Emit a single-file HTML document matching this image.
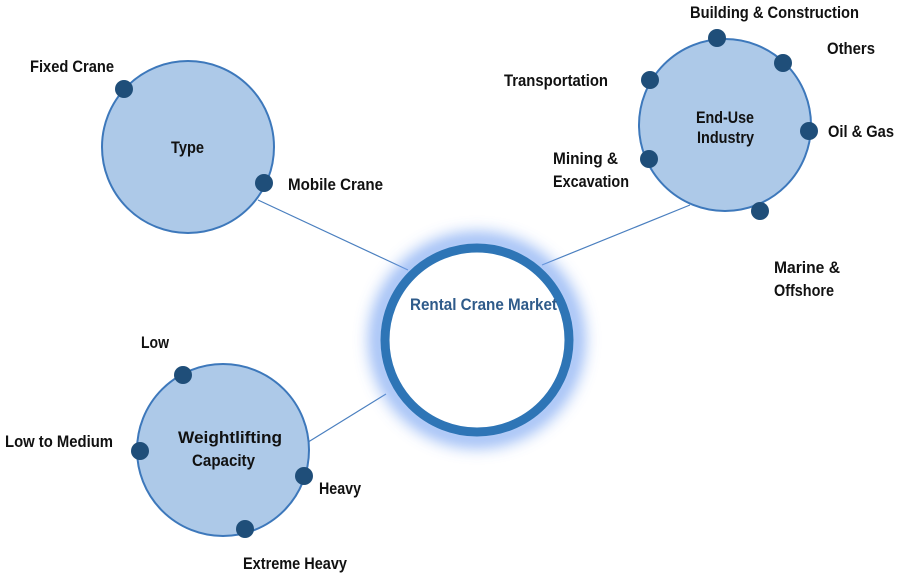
<!DOCTYPE html>
<html><head><style>
html,body{margin:0;padding:0;background:#fff;}
svg text{font-family:"Liberation Sans Narrow","Liberation Sans",sans-serif;font-weight:bold;font-size:17px;fill:#111;}
</style></head><body>
<svg width="900" height="578" viewBox="0 0 900 578" xmlns="http://www.w3.org/2000/svg">
<defs>
<filter id="g" x="-50%" y="-50%" width="200%" height="200%"><feGaussianBlur stdDeviation="8"/></filter>
</defs>
<g stroke="#4a7fbf" stroke-width="1.2">
<line x1="258" y1="200" x2="408" y2="270"/>
<line x1="690" y1="205" x2="542" y2="265"/>
<line x1="386" y1="394" x2="305" y2="444"/>
</g>
<circle cx="477" cy="340" r="99" fill="none" stroke="#7aa5f2" stroke-width="16" filter="url(#g)" opacity="0.85"/>
<circle cx="477" cy="340" r="92" fill="#fff" stroke="#2e75b6" stroke-width="9"/>
<text x="410" y="310" textLength="147" lengthAdjust="spacingAndGlyphs" style="fill:#2f5b8a">Rental Crane Market</text>

<g fill="#adc9e8" stroke="#3d78bb" stroke-width="2">
<circle cx="188" cy="147" r="86"/>
<circle cx="725" cy="125" r="86"/>
<circle cx="223" cy="450" r="86"/>
</g>
<g fill="#1f4e79">
<circle cx="124" cy="89" r="9"/><circle cx="264" cy="183" r="9"/>
<circle cx="717" cy="38" r="9"/><circle cx="783" cy="63" r="9"/><circle cx="650" cy="80" r="9"/>
<circle cx="809" cy="131" r="9"/><circle cx="649" cy="159" r="9"/><circle cx="760" cy="211" r="9"/>
<circle cx="183" cy="375" r="9"/><circle cx="140" cy="451" r="9"/><circle cx="304" cy="476" r="9"/><circle cx="245" cy="529" r="9"/>
</g>

<text x="171" y="153" textLength="33" lengthAdjust="spacingAndGlyphs">Type</text>
<text x="30" y="72" textLength="84" lengthAdjust="spacingAndGlyphs">Fixed Crane</text>
<text x="288" y="190" textLength="95" lengthAdjust="spacingAndGlyphs">Mobile Crane</text>

<text x="696" y="123" textLength="58" lengthAdjust="spacingAndGlyphs">End-Use</text>
<text x="697" y="143" textLength="57" lengthAdjust="spacingAndGlyphs">Industry</text>
<text x="690" y="18" textLength="169" lengthAdjust="spacingAndGlyphs">Building &amp; Construction</text>
<text x="827" y="54" textLength="48" lengthAdjust="spacingAndGlyphs">Others</text>
<text x="504" y="86" textLength="104" lengthAdjust="spacingAndGlyphs">Transportation</text>
<text x="828" y="137" textLength="66" lengthAdjust="spacingAndGlyphs">Oil &amp; Gas</text>
<text x="553" y="164" textLength="65" lengthAdjust="spacingAndGlyphs">Mining &amp;</text>
<text x="553" y="187" textLength="76" lengthAdjust="spacingAndGlyphs">Excavation</text>
<text x="774" y="273" textLength="66" lengthAdjust="spacingAndGlyphs">Marine &amp;</text>
<text x="774" y="296" textLength="60" lengthAdjust="spacingAndGlyphs">Offshore</text>

<text x="178" y="443" textLength="104" lengthAdjust="spacingAndGlyphs">Weightlifting</text>
<text x="192" y="466" textLength="63" lengthAdjust="spacingAndGlyphs">Capacity</text>
<text x="141" y="348" textLength="28" lengthAdjust="spacingAndGlyphs">Low</text>
<text x="5" y="447" textLength="108" lengthAdjust="spacingAndGlyphs">Low to Medium</text>
<text x="319" y="494" textLength="42" lengthAdjust="spacingAndGlyphs">Heavy</text>
<text x="243" y="569" textLength="104" lengthAdjust="spacingAndGlyphs">Extreme Heavy</text>
</svg>
</body></html>
